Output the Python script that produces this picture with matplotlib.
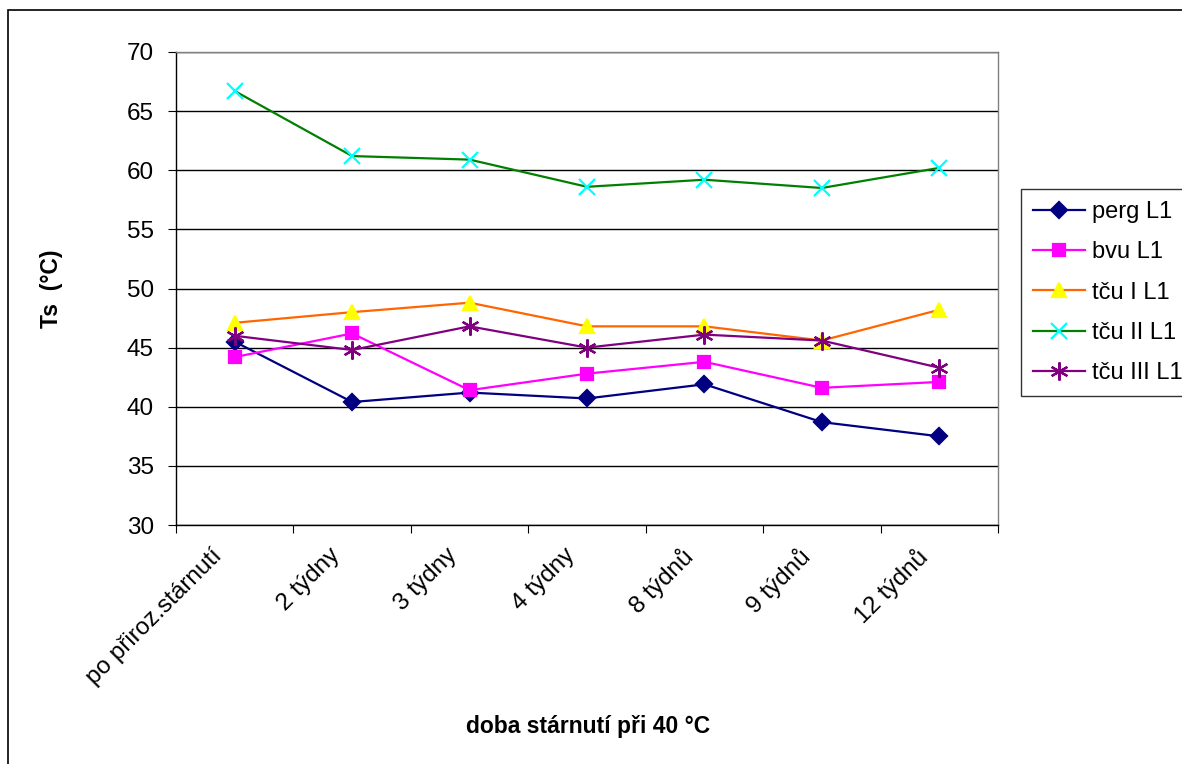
import matplotlib
matplotlib.use("Agg")
import matplotlib.pyplot as plt
from matplotlib.patches import Rectangle

# ============================================================
# Data
# ============================================================

categories = ["po přiroz.stárnutí", "2 týdny", "3 týdny", "4 týdny",
              "8 týdnů", "9 týdnů", "12 týdnů"]

perg_L1 = [45.5, 40.4, 41.2, 40.7, 41.9, 38.7, 37.5]
bvu_L1 = [44.2, 46.2, 41.4, 42.8, 43.8, 41.6, 42.1]
tcu_I_L1 = [47.1, 48.0, 48.8, 46.8, 46.8, 45.6, 48.2]
tcu_II_L1 = [66.7, 61.2, 60.9, 58.6, 59.2, 58.5, 60.2]
tcu_III_L1 = [46.0, 44.8, 46.8, 45.0, 46.1, 45.6, 43.3]

series_names = ["perg L1", "bvu L1", "tču I L1", "tču II L1", "tču III L1"]

# ============================================================
# Style
# ============================================================

plt.rcParams.update({
    "font.family": ["Liberation Sans", "DejaVu Sans"],
    "font.size": 17,
    "axes.linewidth": 1.0,
})

W, H = 1182, 764
fig = plt.figure(figsize=(W / 100, H / 100), dpi=100)

# outer chart border
fig.patches.append(Rectangle((8 / W, -0.1), 1.2, 1 - 10 / H + 0.1,
                             transform=fig.transFigure, fill=False,
                             edgecolor="black", linewidth=1.2))

left, right, top, bottom = 176, 998, 52, 525
ax = fig.add_axes([left / W, 1 - bottom / H, (right - left) / W, (bottom - top) / H])

x = list(range(len(categories)))

styles = [
    (perg_L1, "#000080", "D", "#000080", "#000080", 8),
    (bvu_L1, "#FF00FF", "s", "#FF00FF", "#FF00FF", 9),
    (tcu_I_L1, "#FF6600", "^", "#FFFF00", "#FFFF00", 10),
    (tcu_II_L1, "#008000", "x", "#00FFFF", "#00FFFF", 11),
    (tcu_III_L1, "#800080", (6, 2, 0), "#800080", "#800080", 13),
]

for (vals, lc, mk, mfc, mec, ms), name in zip(styles, series_names):
    ax.plot(x, vals, color=lc, linewidth=1.6, marker=mk, markersize=ms,
            markerfacecolor=mfc, markeredgecolor=mec, markeredgewidth=1.6,
            label=name, clip_on=False, zorder=3)

ax.set_xlim(-0.5, len(categories) - 0.5)
ax.set_ylim(30, 70)
ax.set_yticks(range(30, 71, 5))
ax.grid(axis="y", color="black", linewidth=1.0)
ax.set_axisbelow(True)

# ticks on category boundaries, labels on centers
ax.set_xticks([i - 0.5 for i in range(len(categories) + 1)])
ax.set_xticklabels([])
ax.set_xticks([i - 0.2 for i in x], minor=True)
ax.set_xticklabels(categories, minor=True, rotation=45, ha="right",
                   va="top", rotation_mode="anchor", fontsize=17.5)
ax.tick_params(axis="x", which="minor", length=0, pad=14)
ax.tick_params(axis="x", which="major", length=6, direction="out")
ax.tick_params(axis="y", length=6, direction="out", labelsize=17.5, pad=10)

for s in ["top", "right"]:
    ax.spines[s].set_color("#808080")

ax.set_ylabel("Ts  (°C)", fontsize=16.5, fontweight="bold", labelpad=46)
fig.text(588 / W, 1 - 726 / H, "doba stárnutí při 40 °C",
         ha="center", va="center", fontsize=16.5, fontweight="bold")

leg = fig.legend(loc="upper left", bbox_to_anchor=(1021 / W, 1 - 189 / H),
                 frameon=True, fancybox=False, edgecolor="black",
                 fontsize=17, handlelength=2.2, labelspacing=0.78,
                 borderpad=0.5, handletextpad=0.3, borderaxespad=0)
leg.get_frame().set_linewidth(1.0)

fig.savefig("out.png", dpi=100, facecolor="white")
